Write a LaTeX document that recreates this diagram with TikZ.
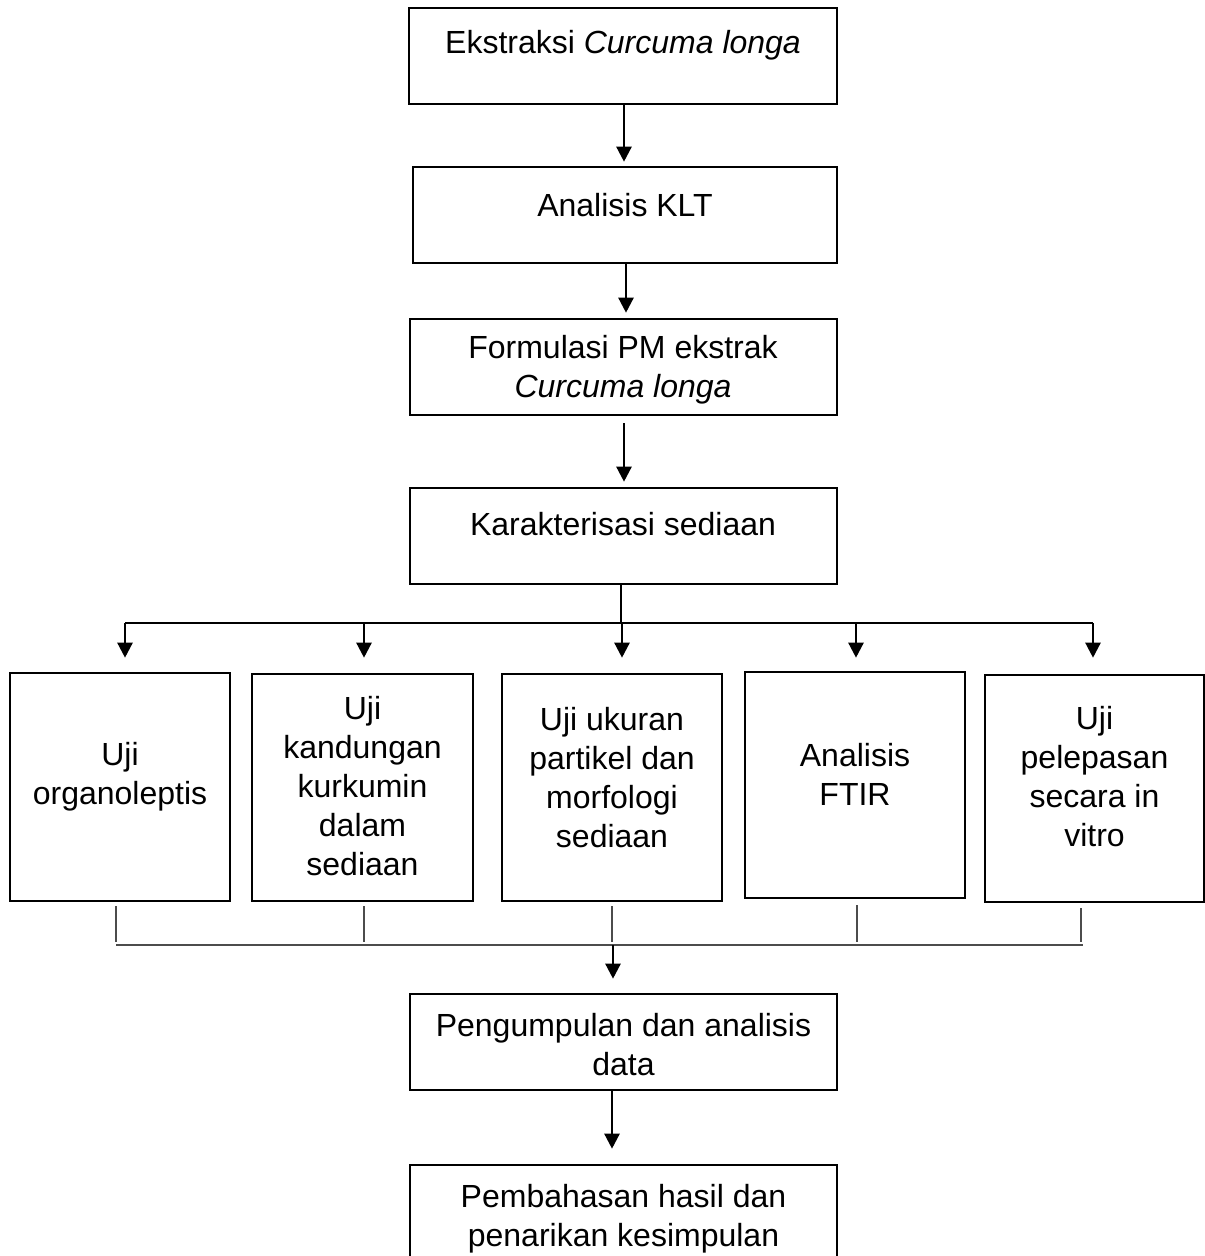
\documentclass[tikz,border=0pt]{standalone}
\usepackage{fontspec}
\setmainfont{Liberation Sans}
\usetikzlibrary{arrows.meta}
\begin{document}
\begin{tikzpicture}[x=1pt,y=-1pt,
  box/.style={draw=black, line width=2.6pt, inner sep=0pt, fill=none},
  txt/.style={align=center, inner sep=0pt, font=\fontsize{32pt}{39pt}\selectfont},
  arr/.style={line width=2.4pt, -{Triangle[length=15pt,width=15pt]}},
  branch/.style={line width=1.6pt},
  merge/.style={line width=1.6pt, draw=black!70}]
\clip (0,0) rectangle (1205,1256);
\fill[white] (0,0) rectangle (1205,1256);
% main column boxes
\node[box, minimum width=428pt, minimum height=96pt] (b1) at (623,56) {};
\node[box, minimum width=424pt, minimum height=96pt] (b2) at (625,215) {};
\node[box, minimum width=427pt, minimum height=96pt] (b3) at (623.5,367) {};
\node[box, minimum width=427pt, minimum height=96pt] (b4) at (623.5,536) {};
% row boxes
\node[box, minimum width=220pt, minimum height=228pt] (r1) at (120,787) {};
\node[box, minimum width=221pt, minimum height=227pt] (r2) at (362.5,787.5) {};
\node[box, minimum width=220pt, minimum height=227pt] (r3) at (612,787.5) {};
\node[box, minimum width=220pt, minimum height=226pt] (r4) at (855,785) {};
\node[box, minimum width=219pt, minimum height=227pt] (r5) at (1094.5,788.5) {};
% lower boxes
\node[box, minimum width=427pt, minimum height=96pt] (p) at (623.5,1042) {};
\node[box, minimum width=427pt, minimum height=96pt] (q) at (623.5,1213) {};
% texts
\node[txt] (t1) at (623,45) {Ekstraksi \textit{Curcuma longa}};
\node[txt] (t2) at (625,205) {Analisis KLT};
\node[txt] (t3) at (623,370) {Formulasi PM ekstrak\\\textit{Curcuma longa}};
\node[txt] (t4) at (623,524) {Karakterisasi sediaan};
\node[txt] (tr1) at (120,777) {Uji\\organoleptis};
\node[txt] (tr2) at (362.5,786) {Uji\\kandungan\\kurkumin\\dalam\\sediaan};
\node[txt] (tr3) at (612,778) {Uji ukuran\\partikel dan\\morfologi\\sediaan};
\node[txt] (tr4) at (855,774) {Analisis\\FTIR};
\node[txt] (tr5) at (1094.5,777) {Uji\\pelepasan\\secara in\\vitro};
\node[txt] (tp) at (623.5,1045) {Pengumpulan dan analisis\\data};
\node[txt] (tq) at (623.5,1219) {Pembahasan hasil dan\\penarikan kesimpulan};
% main arrows
\draw[arr, shorten >=4pt] (624,104) coordinate (a1s) -- (a1s |- b2.north);
\draw[arr, shorten >=5pt] (626,263) coordinate (a2s) -- (a2s |- b3.north);
\draw[arr, shorten <=8pt, shorten >=5pt] (624,415) coordinate (a3s) -- (a3s |- b4.north);
% branch
\coordinate (br) at (621,623);
\draw[branch] (621,584) coordinate (b4s) -- (br);
\coordinate (k1) at (125,623);
\coordinate (k2) at (364,623);
\coordinate (k3) at (622,623);
\coordinate (k4) at (856,623);
\coordinate (k5) at (1093,623);
\draw[branch] (k1) -- (k5);
\draw[arr, shorten >=14pt] (k1) -- (k1 |- r1.north);
\draw[arr, shorten >=15pt] (k2) -- (k2 |- r2.north);
\draw[arr, shorten >=15pt] (k3) -- (k3 |- r3.north);
\draw[arr, shorten >=13pt] (k4) -- (k4 |- r4.north);
\draw[arr, shorten >=16pt] (k5) -- (k5 |- r5.north);
% merge
\coordinate (m1) at (116,945);
\coordinate (m2) at (364,945);
\coordinate (m3) at (612,945);
\coordinate (m4) at (857,945);
\coordinate (m5) at (1081,945);
\draw[merge] (m1 |- r1.south) ++(0,4) -- (116,942);
\draw[merge] (m2 |- r2.south) ++(0,4) -- (364,942);
\draw[merge] (m3 |- r3.south) ++(0,4) -- (612,942);
\draw[merge] (m4 |- r4.south) ++(0,6) -- (857,942);
\draw[merge] (m5 |- r5.south) ++(0,5) -- (1081,942);
\draw[merge, line width=2pt] (m1) -- (1083,945);
\draw[arr, shorten >=14pt] (613,945) coordinate (ms) -- (ms |- p.north);
\draw[arr, shorten >=15pt] (612,1090) coordinate (ps) -- (ps |- q.north);
\end{tikzpicture}
\end{document}
